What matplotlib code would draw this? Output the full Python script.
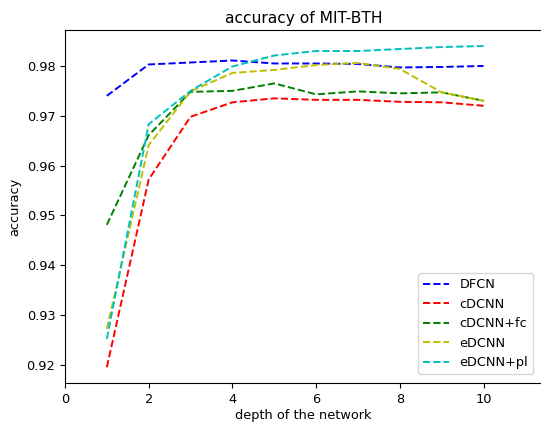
import matplotlib
matplotlib.use('Agg')
import matplotlib.pyplot as plt

depth = [1, 2, 3, 4, 5, 6, 7, 8, 9, 10]

dfcn = [0.9740, 0.9803, 0.9807, 0.9811, 0.9805, 0.9805, 0.9804, 0.9797, 0.9798, 0.9800]
cdcnn = [0.9195, 0.9572, 0.9698, 0.9727, 0.9735, 0.9732, 0.9732, 0.9728, 0.9727, 0.9720]
cdcnn_fc = [0.9481, 0.9661, 0.9748, 0.9750, 0.9765, 0.9743, 0.9749, 0.9745, 0.9747, 0.9730]
edcnn = [0.9272, 0.9641, 0.9749, 0.9786, 0.9792, 0.9802, 0.9806, 0.9794, 0.9747, 0.9730]
edcnn_pl = [0.9252, 0.9683, 0.9750, 0.9799, 0.9821, 0.9830, 0.9830, 0.9834, 0.9838, 0.9840]

# reference looks like a slightly downscaled default figure
plt.rcParams['font.size'] = 9.3
plt.rcParams['lines.linewidth'] = 1.4

fig = plt.figure(figsize=(5.41, 4.23), dpi=100)
ax = fig.add_axes([0.1201, 0.0939, 0.882, 0.8352])

ax.plot(depth, dfcn, 'b--', label='DFCN')
ax.plot(depth, cdcnn, 'r--', label='cDCNN')
ax.plot(depth, cdcnn_fc, 'g--', label='cDCNN+fc')
ax.plot(depth, edcnn, 'y--', label='eDCNN')
ax.plot(depth, edcnn_pl, 'c--', label='eDCNN+pl')

ax.set_xlim(0, 11.4)
ax.set_xticks([0, 2, 4, 6, 8, 10])
ax.set_xlabel('depth of the network', labelpad=2)
ax.set_ylabel('accuracy')
ax.set_title('accuracy of MIT-BTH', pad=5)
ax.legend(loc='lower right', bbox_to_anchor=(1.0, 0.0), borderaxespad=0.7)

fig.savefig('out.png')
